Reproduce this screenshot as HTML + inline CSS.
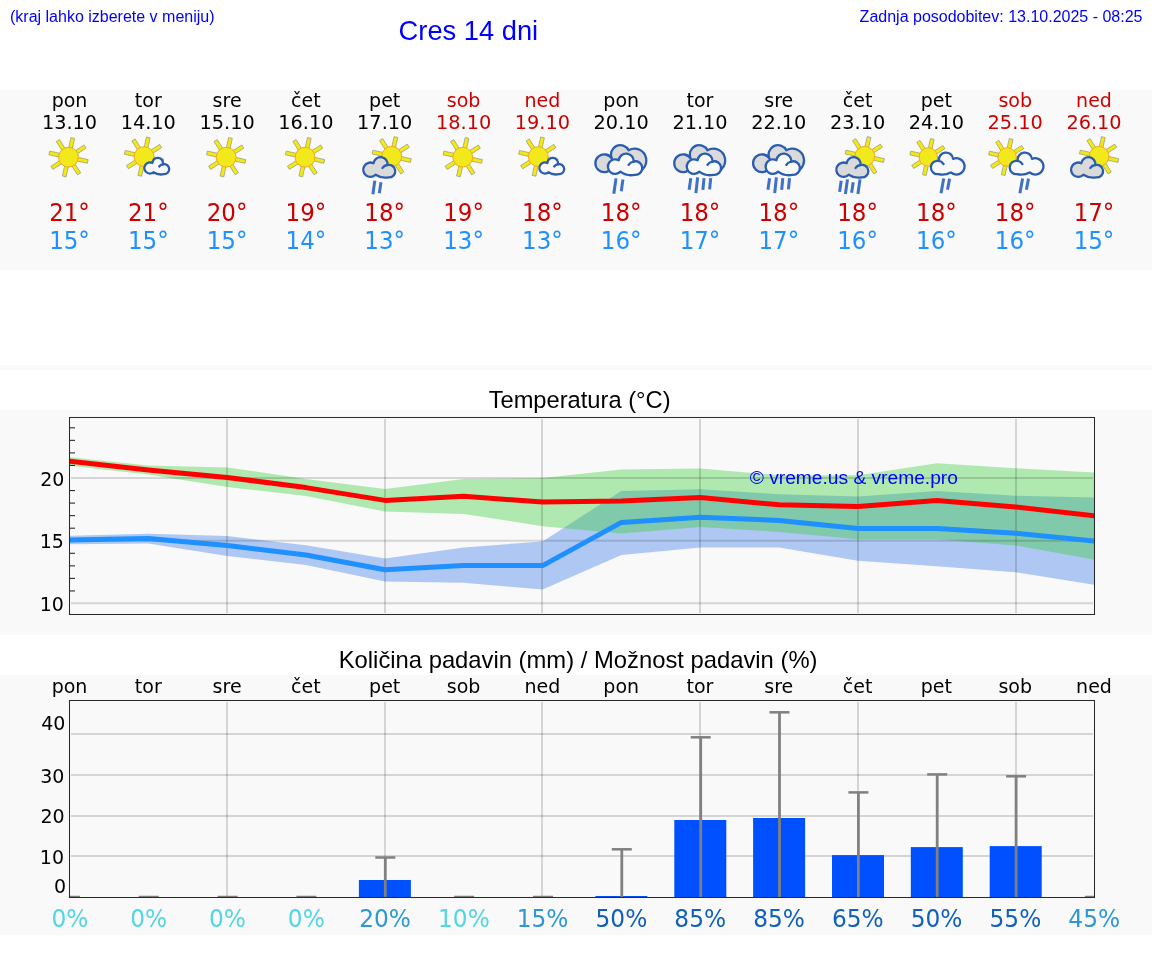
<!DOCTYPE html><html><head><meta charset="utf-8"><title>Cres 14 dni</title><style>
html,body{margin:0;padding:0;background:#fff;}body{width:1152px;height:975px;overflow:hidden;position:relative;}
svg{position:absolute;left:0;top:0;display:block;will-change:transform}
.dj{font-family:"DejaVu Sans",sans-serif}.lb{font-family:"Liberation Sans",Arial,sans-serif}
</style></head><body>
<svg width="1152" height="975" viewBox="0 0 1152 975">
<rect x="0" y="90" width="1152" height="180" fill="#f9f9f9"/>
<rect x="0" y="365" width="1152" height="5" fill="#f9f9f9"/>
<rect x="0" y="410" width="1152" height="225" fill="#f9f9f9"/>
<rect x="0" y="675" width="1152" height="260" fill="#f9f9f9"/>
<text class="lb" x="10" y="22" font-size="16" fill="#0000ff">(kraj lahko izberete v meniju)</text>
<text class="lb" x="468.4" y="40" font-size="27.3" fill="#0000ff" text-anchor="middle">Cres 14 dni</text>
<text class="lb" x="1142.5" y="21.5" font-size="16" fill="#0000ff" text-anchor="end">Zadnja posodobitev: 13.10.2025 - 08:25</text>
<text class="dj" x="69.5" y="106.5" font-size="19" fill="#000" text-anchor="middle">pon</text>
<text class="dj" x="69.5" y="128.8" font-size="19.3" fill="#000" text-anchor="middle">13.10</text>
<text class="dj" transform="translate(69.5,220.8) scale(0.945,1)" font-size="24.3" fill="#cc0000" text-anchor="middle">21°</text>
<text class="dj" transform="translate(69.5,248.8) scale(0.945,1)" font-size="24.3" fill="#1e90ff" text-anchor="middle">15°</text>
<text class="dj" x="148.3" y="106.5" font-size="19" fill="#000" text-anchor="middle">tor</text>
<text class="dj" x="148.3" y="128.8" font-size="19.3" fill="#000" text-anchor="middle">14.10</text>
<text class="dj" transform="translate(148.3,220.8) scale(0.945,1)" font-size="24.3" fill="#cc0000" text-anchor="middle">21°</text>
<text class="dj" transform="translate(148.3,248.8) scale(0.945,1)" font-size="24.3" fill="#1e90ff" text-anchor="middle">15°</text>
<text class="dj" x="227.1" y="106.5" font-size="19" fill="#000" text-anchor="middle">sre</text>
<text class="dj" x="227.1" y="128.8" font-size="19.3" fill="#000" text-anchor="middle">15.10</text>
<text class="dj" transform="translate(227.1,220.8) scale(0.945,1)" font-size="24.3" fill="#cc0000" text-anchor="middle">20°</text>
<text class="dj" transform="translate(227.1,248.8) scale(0.945,1)" font-size="24.3" fill="#1e90ff" text-anchor="middle">15°</text>
<text class="dj" x="305.9" y="106.5" font-size="19" fill="#000" text-anchor="middle">čet</text>
<text class="dj" x="305.9" y="128.8" font-size="19.3" fill="#000" text-anchor="middle">16.10</text>
<text class="dj" transform="translate(305.9,220.8) scale(0.945,1)" font-size="24.3" fill="#cc0000" text-anchor="middle">19°</text>
<text class="dj" transform="translate(305.9,248.8) scale(0.945,1)" font-size="24.3" fill="#1e90ff" text-anchor="middle">14°</text>
<text class="dj" x="384.7" y="106.5" font-size="19" fill="#000" text-anchor="middle">pet</text>
<text class="dj" x="384.7" y="128.8" font-size="19.3" fill="#000" text-anchor="middle">17.10</text>
<text class="dj" transform="translate(384.7,220.8) scale(0.945,1)" font-size="24.3" fill="#cc0000" text-anchor="middle">18°</text>
<text class="dj" transform="translate(384.7,248.8) scale(0.945,1)" font-size="24.3" fill="#1e90ff" text-anchor="middle">13°</text>
<text class="dj" x="463.6" y="106.5" font-size="19" fill="#cc0000" text-anchor="middle">sob</text>
<text class="dj" x="463.6" y="128.8" font-size="19.3" fill="#cc0000" text-anchor="middle">18.10</text>
<text class="dj" transform="translate(463.6,220.8) scale(0.945,1)" font-size="24.3" fill="#cc0000" text-anchor="middle">19°</text>
<text class="dj" transform="translate(463.6,248.8) scale(0.945,1)" font-size="24.3" fill="#1e90ff" text-anchor="middle">13°</text>
<text class="dj" x="542.4" y="106.5" font-size="19" fill="#cc0000" text-anchor="middle">ned</text>
<text class="dj" x="542.4" y="128.8" font-size="19.3" fill="#cc0000" text-anchor="middle">19.10</text>
<text class="dj" transform="translate(542.4,220.8) scale(0.945,1)" font-size="24.3" fill="#cc0000" text-anchor="middle">18°</text>
<text class="dj" transform="translate(542.4,248.8) scale(0.945,1)" font-size="24.3" fill="#1e90ff" text-anchor="middle">13°</text>
<text class="dj" x="621.2" y="106.5" font-size="19" fill="#000" text-anchor="middle">pon</text>
<text class="dj" x="621.2" y="128.8" font-size="19.3" fill="#000" text-anchor="middle">20.10</text>
<text class="dj" transform="translate(621.2,220.8) scale(0.945,1)" font-size="24.3" fill="#cc0000" text-anchor="middle">18°</text>
<text class="dj" transform="translate(621.2,248.8) scale(0.945,1)" font-size="24.3" fill="#1e90ff" text-anchor="middle">16°</text>
<text class="dj" x="700.0" y="106.5" font-size="19" fill="#000" text-anchor="middle">tor</text>
<text class="dj" x="700.0" y="128.8" font-size="19.3" fill="#000" text-anchor="middle">21.10</text>
<text class="dj" transform="translate(700.0,220.8) scale(0.945,1)" font-size="24.3" fill="#cc0000" text-anchor="middle">18°</text>
<text class="dj" transform="translate(700.0,248.8) scale(0.945,1)" font-size="24.3" fill="#1e90ff" text-anchor="middle">17°</text>
<text class="dj" x="778.8" y="106.5" font-size="19" fill="#000" text-anchor="middle">sre</text>
<text class="dj" x="778.8" y="128.8" font-size="19.3" fill="#000" text-anchor="middle">22.10</text>
<text class="dj" transform="translate(778.8,220.8) scale(0.945,1)" font-size="24.3" fill="#cc0000" text-anchor="middle">18°</text>
<text class="dj" transform="translate(778.8,248.8) scale(0.945,1)" font-size="24.3" fill="#1e90ff" text-anchor="middle">17°</text>
<text class="dj" x="857.6" y="106.5" font-size="19" fill="#000" text-anchor="middle">čet</text>
<text class="dj" x="857.6" y="128.8" font-size="19.3" fill="#000" text-anchor="middle">23.10</text>
<text class="dj" transform="translate(857.6,220.8) scale(0.945,1)" font-size="24.3" fill="#cc0000" text-anchor="middle">18°</text>
<text class="dj" transform="translate(857.6,248.8) scale(0.945,1)" font-size="24.3" fill="#1e90ff" text-anchor="middle">16°</text>
<text class="dj" x="936.4" y="106.5" font-size="19" fill="#000" text-anchor="middle">pet</text>
<text class="dj" x="936.4" y="128.8" font-size="19.3" fill="#000" text-anchor="middle">24.10</text>
<text class="dj" transform="translate(936.4,220.8) scale(0.945,1)" font-size="24.3" fill="#cc0000" text-anchor="middle">18°</text>
<text class="dj" transform="translate(936.4,248.8) scale(0.945,1)" font-size="24.3" fill="#1e90ff" text-anchor="middle">16°</text>
<text class="dj" x="1015.2" y="106.5" font-size="19" fill="#cc0000" text-anchor="middle">sob</text>
<text class="dj" x="1015.2" y="128.8" font-size="19.3" fill="#cc0000" text-anchor="middle">25.10</text>
<text class="dj" transform="translate(1015.2,220.8) scale(0.945,1)" font-size="24.3" fill="#cc0000" text-anchor="middle">18°</text>
<text class="dj" transform="translate(1015.2,248.8) scale(0.945,1)" font-size="24.3" fill="#1e90ff" text-anchor="middle">16°</text>
<text class="dj" x="1094.0" y="106.5" font-size="19" fill="#cc0000" text-anchor="middle">ned</text>
<text class="dj" x="1094.0" y="128.8" font-size="19.3" fill="#cc0000" text-anchor="middle">26.10</text>
<text class="dj" transform="translate(1094.0,220.8) scale(0.945,1)" font-size="24.3" fill="#cc0000" text-anchor="middle">17°</text>
<text class="dj" transform="translate(1094.0,248.8) scale(0.945,1)" font-size="24.3" fill="#1e90ff" text-anchor="middle">15°</text>
<g transform="translate(68.50,157.20)"><rect x="-1.9" y="-19.7" width="3.8" height="10.799999999999999" fill="#f2ea12" stroke="#8c8c7c" stroke-width="0.6" transform="rotate(12.5)"/><rect x="-1.9" y="-19.7" width="3.8" height="10.799999999999999" fill="#f2ea12" stroke="#8c8c7c" stroke-width="0.6" transform="rotate(57.5)"/><rect x="-1.9" y="-19.7" width="3.8" height="10.799999999999999" fill="#f2ea12" stroke="#8c8c7c" stroke-width="0.6" transform="rotate(102.5)"/><rect x="-1.9" y="-19.7" width="3.8" height="10.799999999999999" fill="#f2ea12" stroke="#8c8c7c" stroke-width="0.6" transform="rotate(147.5)"/><rect x="-1.9" y="-19.7" width="3.8" height="10.799999999999999" fill="#f2ea12" stroke="#8c8c7c" stroke-width="0.6" transform="rotate(192.5)"/><rect x="-1.9" y="-19.7" width="3.8" height="10.799999999999999" fill="#f2ea12" stroke="#8c8c7c" stroke-width="0.6" transform="rotate(237.5)"/><rect x="-1.9" y="-19.7" width="3.8" height="10.799999999999999" fill="#f2ea12" stroke="#8c8c7c" stroke-width="0.6" transform="rotate(282.5)"/><rect x="-1.9" y="-19.7" width="3.8" height="10.799999999999999" fill="#f2ea12" stroke="#8c8c7c" stroke-width="0.6" transform="rotate(327.5)"/><circle r="9.9" fill="#f1e91c" stroke="#f7a81b" stroke-width="1"/></g>
<g transform="translate(144.05,156.60)"><rect x="-1.9" y="-19.7" width="3.8" height="10.799999999999999" fill="#f2ea12" stroke="#8c8c7c" stroke-width="0.6" transform="rotate(12.5)"/><rect x="-1.9" y="-19.7" width="3.8" height="10.799999999999999" fill="#f2ea12" stroke="#8c8c7c" stroke-width="0.6" transform="rotate(57.5)"/><rect x="-1.9" y="-19.7" width="3.8" height="10.799999999999999" fill="#f2ea12" stroke="#8c8c7c" stroke-width="0.6" transform="rotate(102.5)"/><rect x="-1.9" y="-19.7" width="3.8" height="10.799999999999999" fill="#f2ea12" stroke="#8c8c7c" stroke-width="0.6" transform="rotate(147.5)"/><rect x="-1.9" y="-19.7" width="3.8" height="10.799999999999999" fill="#f2ea12" stroke="#8c8c7c" stroke-width="0.6" transform="rotate(192.5)"/><rect x="-1.9" y="-19.7" width="3.8" height="10.799999999999999" fill="#f2ea12" stroke="#8c8c7c" stroke-width="0.6" transform="rotate(237.5)"/><rect x="-1.9" y="-19.7" width="3.8" height="10.799999999999999" fill="#f2ea12" stroke="#8c8c7c" stroke-width="0.6" transform="rotate(282.5)"/><rect x="-1.9" y="-19.7" width="3.8" height="10.799999999999999" fill="#f2ea12" stroke="#8c8c7c" stroke-width="0.6" transform="rotate(327.5)"/><circle r="9.9" fill="#f1e91c" stroke="#f7a81b" stroke-width="1"/></g><g transform="translate(149.90,168.00)"><path d="M3.46 4.27 A5.50 5.50 0 1 1 2.50 -4.90 A5.30 5.30 0 1 1 12.94 -3.61 A5.00 5.00 0 1 1 13.86 6.18 A14 14 0 0 1 3.46 4.27Z" fill="#f9f9f9" stroke="#2a5db0" stroke-width="2.3" stroke-linejoin="round"/><path d="M9.31 -1.56 A5.35 5.35 0 0 1 12.94 -3.61" fill="none" stroke="#2a5db0" stroke-width="2.3" stroke-linecap="round"/></g>
<g transform="translate(226.19,157.20)"><rect x="-1.9" y="-19.7" width="3.8" height="10.799999999999999" fill="#f2ea12" stroke="#8c8c7c" stroke-width="0.6" transform="rotate(12.5)"/><rect x="-1.9" y="-19.7" width="3.8" height="10.799999999999999" fill="#f2ea12" stroke="#8c8c7c" stroke-width="0.6" transform="rotate(57.5)"/><rect x="-1.9" y="-19.7" width="3.8" height="10.799999999999999" fill="#f2ea12" stroke="#8c8c7c" stroke-width="0.6" transform="rotate(102.5)"/><rect x="-1.9" y="-19.7" width="3.8" height="10.799999999999999" fill="#f2ea12" stroke="#8c8c7c" stroke-width="0.6" transform="rotate(147.5)"/><rect x="-1.9" y="-19.7" width="3.8" height="10.799999999999999" fill="#f2ea12" stroke="#8c8c7c" stroke-width="0.6" transform="rotate(192.5)"/><rect x="-1.9" y="-19.7" width="3.8" height="10.799999999999999" fill="#f2ea12" stroke="#8c8c7c" stroke-width="0.6" transform="rotate(237.5)"/><rect x="-1.9" y="-19.7" width="3.8" height="10.799999999999999" fill="#f2ea12" stroke="#8c8c7c" stroke-width="0.6" transform="rotate(282.5)"/><rect x="-1.9" y="-19.7" width="3.8" height="10.799999999999999" fill="#f2ea12" stroke="#8c8c7c" stroke-width="0.6" transform="rotate(327.5)"/><circle r="9.9" fill="#f1e91c" stroke="#f7a81b" stroke-width="1"/></g>
<g transform="translate(305.04,157.20)"><rect x="-1.9" y="-19.7" width="3.8" height="10.799999999999999" fill="#f2ea12" stroke="#8c8c7c" stroke-width="0.6" transform="rotate(12.5)"/><rect x="-1.9" y="-19.7" width="3.8" height="10.799999999999999" fill="#f2ea12" stroke="#8c8c7c" stroke-width="0.6" transform="rotate(57.5)"/><rect x="-1.9" y="-19.7" width="3.8" height="10.799999999999999" fill="#f2ea12" stroke="#8c8c7c" stroke-width="0.6" transform="rotate(102.5)"/><rect x="-1.9" y="-19.7" width="3.8" height="10.799999999999999" fill="#f2ea12" stroke="#8c8c7c" stroke-width="0.6" transform="rotate(147.5)"/><rect x="-1.9" y="-19.7" width="3.8" height="10.799999999999999" fill="#f2ea12" stroke="#8c8c7c" stroke-width="0.6" transform="rotate(192.5)"/><rect x="-1.9" y="-19.7" width="3.8" height="10.799999999999999" fill="#f2ea12" stroke="#8c8c7c" stroke-width="0.6" transform="rotate(237.5)"/><rect x="-1.9" y="-19.7" width="3.8" height="10.799999999999999" fill="#f2ea12" stroke="#8c8c7c" stroke-width="0.6" transform="rotate(282.5)"/><rect x="-1.9" y="-19.7" width="3.8" height="10.799999999999999" fill="#f2ea12" stroke="#8c8c7c" stroke-width="0.6" transform="rotate(327.5)"/><circle r="9.9" fill="#f1e91c" stroke="#f7a81b" stroke-width="1"/></g>
<g transform="translate(391.68,156.30)"><rect x="-1.9" y="-19.7" width="3.8" height="10.799999999999999" fill="#f2ea12" stroke="#8c8c7c" stroke-width="0.6" transform="rotate(12.5)"/><rect x="-1.9" y="-19.7" width="3.8" height="10.799999999999999" fill="#f2ea12" stroke="#8c8c7c" stroke-width="0.6" transform="rotate(57.5)"/><rect x="-1.9" y="-19.7" width="3.8" height="10.799999999999999" fill="#f2ea12" stroke="#8c8c7c" stroke-width="0.6" transform="rotate(102.5)"/><rect x="-1.9" y="-19.7" width="3.8" height="10.799999999999999" fill="#f2ea12" stroke="#8c8c7c" stroke-width="0.6" transform="rotate(147.5)"/><rect x="-1.9" y="-19.7" width="3.8" height="10.799999999999999" fill="#f2ea12" stroke="#8c8c7c" stroke-width="0.6" transform="rotate(192.5)"/><rect x="-1.9" y="-19.7" width="3.8" height="10.799999999999999" fill="#f2ea12" stroke="#8c8c7c" stroke-width="0.6" transform="rotate(237.5)"/><rect x="-1.9" y="-19.7" width="3.8" height="10.799999999999999" fill="#f2ea12" stroke="#8c8c7c" stroke-width="0.6" transform="rotate(282.5)"/><rect x="-1.9" y="-19.7" width="3.8" height="10.799999999999999" fill="#f2ea12" stroke="#8c8c7c" stroke-width="0.6" transform="rotate(327.5)"/><circle r="9.9" fill="#f1e91c" stroke="#f7a81b" stroke-width="1"/></g><g transform="translate(370.48,169.70)"><path d="M5.09 5.09 A7.20 7.20 0 1 1 3.07 -6.51 A7.00 7.00 0 0 1 16.96 -4.71 A6.30 6.30 0 1 1 17.95 7.68 A18 18 0 0 1 5.09 5.09Z" fill="#dadada" stroke="#2a5db0" stroke-width="2.3" stroke-linejoin="round"/><path d="M12.03 -1.76 A6.75 6.75 0 0 1 16.96 -4.71" fill="none" stroke="#2a5db0" stroke-width="2.3" stroke-linecap="round"/></g><line x1="374.8" y1="180.6" x2="372.9" y2="194.3" stroke="#3f71c4" stroke-width="3"/><line x1="381.0" y1="182.3" x2="379.3" y2="193.3" stroke="#3f71c4" stroke-width="3"/>
<g transform="translate(462.73,157.20)"><rect x="-1.9" y="-19.7" width="3.8" height="10.799999999999999" fill="#f2ea12" stroke="#8c8c7c" stroke-width="0.6" transform="rotate(12.5)"/><rect x="-1.9" y="-19.7" width="3.8" height="10.799999999999999" fill="#f2ea12" stroke="#8c8c7c" stroke-width="0.6" transform="rotate(57.5)"/><rect x="-1.9" y="-19.7" width="3.8" height="10.799999999999999" fill="#f2ea12" stroke="#8c8c7c" stroke-width="0.6" transform="rotate(102.5)"/><rect x="-1.9" y="-19.7" width="3.8" height="10.799999999999999" fill="#f2ea12" stroke="#8c8c7c" stroke-width="0.6" transform="rotate(147.5)"/><rect x="-1.9" y="-19.7" width="3.8" height="10.799999999999999" fill="#f2ea12" stroke="#8c8c7c" stroke-width="0.6" transform="rotate(192.5)"/><rect x="-1.9" y="-19.7" width="3.8" height="10.799999999999999" fill="#f2ea12" stroke="#8c8c7c" stroke-width="0.6" transform="rotate(237.5)"/><rect x="-1.9" y="-19.7" width="3.8" height="10.799999999999999" fill="#f2ea12" stroke="#8c8c7c" stroke-width="0.6" transform="rotate(282.5)"/><rect x="-1.9" y="-19.7" width="3.8" height="10.799999999999999" fill="#f2ea12" stroke="#8c8c7c" stroke-width="0.6" transform="rotate(327.5)"/><circle r="9.9" fill="#f1e91c" stroke="#f7a81b" stroke-width="1"/></g>
<g transform="translate(538.28,156.60)"><rect x="-1.9" y="-19.7" width="3.8" height="10.799999999999999" fill="#f2ea12" stroke="#8c8c7c" stroke-width="0.6" transform="rotate(12.5)"/><rect x="-1.9" y="-19.7" width="3.8" height="10.799999999999999" fill="#f2ea12" stroke="#8c8c7c" stroke-width="0.6" transform="rotate(57.5)"/><rect x="-1.9" y="-19.7" width="3.8" height="10.799999999999999" fill="#f2ea12" stroke="#8c8c7c" stroke-width="0.6" transform="rotate(102.5)"/><rect x="-1.9" y="-19.7" width="3.8" height="10.799999999999999" fill="#f2ea12" stroke="#8c8c7c" stroke-width="0.6" transform="rotate(147.5)"/><rect x="-1.9" y="-19.7" width="3.8" height="10.799999999999999" fill="#f2ea12" stroke="#8c8c7c" stroke-width="0.6" transform="rotate(192.5)"/><rect x="-1.9" y="-19.7" width="3.8" height="10.799999999999999" fill="#f2ea12" stroke="#8c8c7c" stroke-width="0.6" transform="rotate(237.5)"/><rect x="-1.9" y="-19.7" width="3.8" height="10.799999999999999" fill="#f2ea12" stroke="#8c8c7c" stroke-width="0.6" transform="rotate(282.5)"/><rect x="-1.9" y="-19.7" width="3.8" height="10.799999999999999" fill="#f2ea12" stroke="#8c8c7c" stroke-width="0.6" transform="rotate(327.5)"/><circle r="9.9" fill="#f1e91c" stroke="#f7a81b" stroke-width="1"/></g><g transform="translate(544.88,168.00)"><path d="M3.46 4.27 A5.50 5.50 0 1 1 2.50 -4.90 A5.30 5.30 0 1 1 12.94 -3.61 A5.00 5.00 0 1 1 13.86 6.18 A14 14 0 0 1 3.46 4.27Z" fill="#f9f9f9" stroke="#2a5db0" stroke-width="2.3" stroke-linejoin="round"/><path d="M9.31 -1.56 A5.35 5.35 0 0 1 12.94 -3.61" fill="none" stroke="#2a5db0" stroke-width="2.3" stroke-linecap="round"/></g>
<g transform="translate(604.02,163.70)"><path d="M7.71 4.45 A8.90 8.90 0 1 1 7.88 -5.02 A9.20 9.20 0 1 1 24.62 -13.43 A11.80 11.80 0 1 1 28.45 8.42 A400 400 0 0 1 7.71 4.45Z" fill="#dadada" stroke="#2a5db0" stroke-width="2.3" stroke-linejoin="round"/></g><g transform="translate(615.22,166.60)"><path d="M5.25 5.07 A7.30 7.30 0 1 1 3.54 -6.38 A7.50 7.50 0 0 1 18.48 -5.08 A6.80 6.80 0 1 1 19.61 8.27 A18 18 0 0 1 5.25 5.07Z" fill="#f9f9f9" stroke="#2a5db0" stroke-width="2.3" stroke-linejoin="round"/><path d="M13.37 -1.83 A7.20 7.20 0 0 1 18.48 -5.08" fill="none" stroke="#2a5db0" stroke-width="2.3" stroke-linecap="round"/></g><line x1="616.0" y1="178.4" x2="613.8" y2="193.7" stroke="#3f71c4" stroke-width="3"/><line x1="622.9" y1="179.5" x2="621.3" y2="191.2" stroke="#3f71c4" stroke-width="3"/>
<g transform="translate(682.87,163.70)"><path d="M7.71 4.45 A8.90 8.90 0 1 1 7.88 -5.02 A9.20 9.20 0 1 1 24.62 -13.43 A11.80 11.80 0 1 1 28.45 8.42 A400 400 0 0 1 7.71 4.45Z" fill="#dadada" stroke="#2a5db0" stroke-width="2.3" stroke-linejoin="round"/></g><g transform="translate(694.07,166.60)"><path d="M5.25 5.07 A7.30 7.30 0 1 1 3.54 -6.38 A7.50 7.50 0 0 1 18.48 -5.08 A6.80 6.80 0 1 1 19.61 8.27 A18 18 0 0 1 5.25 5.07Z" fill="#f9f9f9" stroke="#2a5db0" stroke-width="2.3" stroke-linejoin="round"/><path d="M13.37 -1.83 A7.20 7.20 0 0 1 18.48 -5.08" fill="none" stroke="#2a5db0" stroke-width="2.3" stroke-linecap="round"/></g><line x1="690.8" y1="178.2" x2="689.1" y2="189.8" stroke="#3f71c4" stroke-width="3"/><line x1="697.6" y1="177.3" x2="695.9" y2="193.2" stroke="#3f71c4" stroke-width="3"/><line x1="704.0" y1="178.2" x2="702.9" y2="189.8" stroke="#3f71c4" stroke-width="3"/><line x1="710.7" y1="178.2" x2="709.6" y2="189.3" stroke="#3f71c4" stroke-width="3"/>
<g transform="translate(761.71,163.70)"><path d="M7.71 4.45 A8.90 8.90 0 1 1 7.88 -5.02 A9.20 9.20 0 1 1 24.62 -13.43 A11.80 11.80 0 1 1 28.45 8.42 A400 400 0 0 1 7.71 4.45Z" fill="#dadada" stroke="#2a5db0" stroke-width="2.3" stroke-linejoin="round"/></g><g transform="translate(772.91,166.60)"><path d="M5.25 5.07 A7.30 7.30 0 1 1 3.54 -6.38 A7.50 7.50 0 0 1 18.48 -5.08 A6.80 6.80 0 1 1 19.61 8.27 A18 18 0 0 1 5.25 5.07Z" fill="#f9f9f9" stroke="#2a5db0" stroke-width="2.3" stroke-linejoin="round"/><path d="M13.37 -1.83 A7.20 7.20 0 0 1 18.48 -5.08" fill="none" stroke="#2a5db0" stroke-width="2.3" stroke-linecap="round"/></g><line x1="769.6" y1="178.2" x2="767.9" y2="189.8" stroke="#3f71c4" stroke-width="3"/><line x1="776.4" y1="177.3" x2="774.7" y2="193.2" stroke="#3f71c4" stroke-width="3"/><line x1="782.8" y1="178.2" x2="781.7" y2="189.8" stroke="#3f71c4" stroke-width="3"/><line x1="789.5" y1="178.2" x2="788.4" y2="189.3" stroke="#3f71c4" stroke-width="3"/>
<g transform="translate(864.76,156.30)"><rect x="-1.9" y="-19.7" width="3.8" height="10.799999999999999" fill="#f2ea12" stroke="#8c8c7c" stroke-width="0.6" transform="rotate(12.5)"/><rect x="-1.9" y="-19.7" width="3.8" height="10.799999999999999" fill="#f2ea12" stroke="#8c8c7c" stroke-width="0.6" transform="rotate(57.5)"/><rect x="-1.9" y="-19.7" width="3.8" height="10.799999999999999" fill="#f2ea12" stroke="#8c8c7c" stroke-width="0.6" transform="rotate(102.5)"/><rect x="-1.9" y="-19.7" width="3.8" height="10.799999999999999" fill="#f2ea12" stroke="#8c8c7c" stroke-width="0.6" transform="rotate(147.5)"/><rect x="-1.9" y="-19.7" width="3.8" height="10.799999999999999" fill="#f2ea12" stroke="#8c8c7c" stroke-width="0.6" transform="rotate(192.5)"/><rect x="-1.9" y="-19.7" width="3.8" height="10.799999999999999" fill="#f2ea12" stroke="#8c8c7c" stroke-width="0.6" transform="rotate(237.5)"/><rect x="-1.9" y="-19.7" width="3.8" height="10.799999999999999" fill="#f2ea12" stroke="#8c8c7c" stroke-width="0.6" transform="rotate(282.5)"/><rect x="-1.9" y="-19.7" width="3.8" height="10.799999999999999" fill="#f2ea12" stroke="#8c8c7c" stroke-width="0.6" transform="rotate(327.5)"/><circle r="9.9" fill="#f1e91c" stroke="#f7a81b" stroke-width="1"/></g><g transform="translate(843.56,169.70)"><path d="M5.09 5.09 A7.20 7.20 0 1 1 3.07 -6.51 A7.00 7.00 0 0 1 16.96 -4.71 A6.30 6.30 0 1 1 17.95 7.68 A18 18 0 0 1 5.09 5.09Z" fill="#dadada" stroke="#2a5db0" stroke-width="2.3" stroke-linejoin="round"/><path d="M12.03 -1.76 A6.75 6.75 0 0 1 16.96 -4.71" fill="none" stroke="#2a5db0" stroke-width="2.3" stroke-linecap="round"/></g><line x1="841.2" y1="180.7" x2="839.6" y2="191.9" stroke="#3f71c4" stroke-width="3"/><line x1="847.5" y1="179.4" x2="845.4" y2="194.0" stroke="#3f71c4" stroke-width="3"/><line x1="853.2" y1="182.3" x2="851.6" y2="192.7" stroke="#3f71c4" stroke-width="3"/><line x1="860.0" y1="179.4" x2="857.9" y2="194.0" stroke="#3f71c4" stroke-width="3"/>
<g transform="translate(928.31,157.00)"><rect x="-1.9" y="-18.5" width="3.8" height="10.3" fill="#f2ea12" stroke="#8c8c7c" stroke-width="0.6" transform="rotate(12.5)"/><rect x="-1.9" y="-18.5" width="3.8" height="10.3" fill="#f2ea12" stroke="#8c8c7c" stroke-width="0.6" transform="rotate(57.5)"/><rect x="-1.9" y="-18.5" width="3.8" height="10.3" fill="#f2ea12" stroke="#8c8c7c" stroke-width="0.6" transform="rotate(102.5)"/><rect x="-1.9" y="-18.5" width="3.8" height="10.3" fill="#f2ea12" stroke="#8c8c7c" stroke-width="0.6" transform="rotate(147.5)"/><rect x="-1.9" y="-18.5" width="3.8" height="10.3" fill="#f2ea12" stroke="#8c8c7c" stroke-width="0.6" transform="rotate(192.5)"/><rect x="-1.9" y="-18.5" width="3.8" height="10.3" fill="#f2ea12" stroke="#8c8c7c" stroke-width="0.6" transform="rotate(237.5)"/><rect x="-1.9" y="-18.5" width="3.8" height="10.3" fill="#f2ea12" stroke="#8c8c7c" stroke-width="0.6" transform="rotate(282.5)"/><rect x="-1.9" y="-18.5" width="3.8" height="10.3" fill="#f2ea12" stroke="#8c8c7c" stroke-width="0.6" transform="rotate(327.5)"/><circle r="9.2" fill="#f1e91c" stroke="#f7a81b" stroke-width="1"/></g><g transform="translate(956.41,166.40) scale(-1,1)"><path d="M5.59 6.00 A8.20 8.20 0 1 1 3.26 -7.52 A7.20 7.20 0 1 1 17.51 -5.47 A6.70 6.70 0 1 1 18.22 7.77 A18 18 0 0 1 5.59 6.00Z" fill="#f9f9f9" stroke="#2a5db0" stroke-width="2.3" stroke-linejoin="round"/><path d="M12.82 -2.35 A6.80 6.80 0 0 1 17.51 -5.47" fill="none" stroke="#2a5db0" stroke-width="2.3" stroke-linecap="round"/></g><line x1="943.7" y1="178.4" x2="941.0" y2="193.3" stroke="#3f71c4" stroke-width="3"/><line x1="949.6" y1="178.6" x2="947.5" y2="189.7" stroke="#3f71c4" stroke-width="3"/>
<g transform="translate(1007.15,157.00)"><rect x="-1.9" y="-18.5" width="3.8" height="10.3" fill="#f2ea12" stroke="#8c8c7c" stroke-width="0.6" transform="rotate(12.5)"/><rect x="-1.9" y="-18.5" width="3.8" height="10.3" fill="#f2ea12" stroke="#8c8c7c" stroke-width="0.6" transform="rotate(57.5)"/><rect x="-1.9" y="-18.5" width="3.8" height="10.3" fill="#f2ea12" stroke="#8c8c7c" stroke-width="0.6" transform="rotate(102.5)"/><rect x="-1.9" y="-18.5" width="3.8" height="10.3" fill="#f2ea12" stroke="#8c8c7c" stroke-width="0.6" transform="rotate(147.5)"/><rect x="-1.9" y="-18.5" width="3.8" height="10.3" fill="#f2ea12" stroke="#8c8c7c" stroke-width="0.6" transform="rotate(192.5)"/><rect x="-1.9" y="-18.5" width="3.8" height="10.3" fill="#f2ea12" stroke="#8c8c7c" stroke-width="0.6" transform="rotate(237.5)"/><rect x="-1.9" y="-18.5" width="3.8" height="10.3" fill="#f2ea12" stroke="#8c8c7c" stroke-width="0.6" transform="rotate(282.5)"/><rect x="-1.9" y="-18.5" width="3.8" height="10.3" fill="#f2ea12" stroke="#8c8c7c" stroke-width="0.6" transform="rotate(327.5)"/><circle r="9.2" fill="#f1e91c" stroke="#f7a81b" stroke-width="1"/></g><g transform="translate(1035.25,166.40) scale(-1,1)"><path d="M5.59 6.00 A8.20 8.20 0 1 1 3.26 -7.52 A7.20 7.20 0 1 1 17.51 -5.47 A6.70 6.70 0 1 1 18.22 7.77 A18 18 0 0 1 5.59 6.00Z" fill="#f9f9f9" stroke="#2a5db0" stroke-width="2.3" stroke-linejoin="round"/><path d="M12.82 -2.35 A6.80 6.80 0 0 1 17.51 -5.47" fill="none" stroke="#2a5db0" stroke-width="2.3" stroke-linecap="round"/></g><line x1="1022.6" y1="178.4" x2="1019.9" y2="193.3" stroke="#3f71c4" stroke-width="3"/><line x1="1028.5" y1="178.6" x2="1026.4" y2="189.7" stroke="#3f71c4" stroke-width="3"/>
<g transform="translate(1099.10,156.30)"><rect x="-1.9" y="-19.7" width="3.8" height="10.799999999999999" fill="#f2ea12" stroke="#8c8c7c" stroke-width="0.6" transform="rotate(12.5)"/><rect x="-1.9" y="-19.7" width="3.8" height="10.799999999999999" fill="#f2ea12" stroke="#8c8c7c" stroke-width="0.6" transform="rotate(57.5)"/><rect x="-1.9" y="-19.7" width="3.8" height="10.799999999999999" fill="#f2ea12" stroke="#8c8c7c" stroke-width="0.6" transform="rotate(102.5)"/><rect x="-1.9" y="-19.7" width="3.8" height="10.799999999999999" fill="#f2ea12" stroke="#8c8c7c" stroke-width="0.6" transform="rotate(147.5)"/><rect x="-1.9" y="-19.7" width="3.8" height="10.799999999999999" fill="#f2ea12" stroke="#8c8c7c" stroke-width="0.6" transform="rotate(192.5)"/><rect x="-1.9" y="-19.7" width="3.8" height="10.799999999999999" fill="#f2ea12" stroke="#8c8c7c" stroke-width="0.6" transform="rotate(237.5)"/><rect x="-1.9" y="-19.7" width="3.8" height="10.799999999999999" fill="#f2ea12" stroke="#8c8c7c" stroke-width="0.6" transform="rotate(282.5)"/><rect x="-1.9" y="-19.7" width="3.8" height="10.799999999999999" fill="#f2ea12" stroke="#8c8c7c" stroke-width="0.6" transform="rotate(327.5)"/><circle r="9.9" fill="#f1e91c" stroke="#f7a81b" stroke-width="1"/></g><g transform="translate(1078.30,169.70)"><path d="M5.09 5.09 A7.20 7.20 0 1 1 3.07 -6.51 A7.00 7.00 0 0 1 16.96 -4.71 A6.30 6.30 0 1 1 17.95 7.68 A18 18 0 0 1 5.09 5.09Z" fill="#dadada" stroke="#2a5db0" stroke-width="2.3" stroke-linejoin="round"/><path d="M12.03 -1.76 A6.75 6.75 0 0 1 16.96 -4.71" fill="none" stroke="#2a5db0" stroke-width="2.3" stroke-linecap="round"/></g>
<rect x="70" y="418" width="1024" height="196" fill="#fff"/>
<rect x="71" y="419" width="1022" height="194" fill="#f9f9f9"/>
<clipPath id="tc"><rect x="70" y="418" width="1024" height="196"/></clipPath>
<g clip-path="url(#tc)">
<polygon points="69.5,535.8 148.3,533.8 227.2,536.0 306.0,545.3 384.9,558.6 463.7,547.5 542.6,541.4 621.4,490.9 700.3,489.2 779.1,494.2 858.0,496.6 936.8,490.9 1015.7,495.8 1094.5,497.5 1094.5,584.8 1015.7,572.3 936.8,566.3 858.0,560.7 779.1,547.5 700.3,547.5 621.4,554.9 542.6,589.4 463.7,582.8 384.9,581.6 306.0,565.0 227.2,556.0 148.3,543.6 69.5,544.3" fill="#6495ed" fill-opacity="0.5"/>
<polygon points="69.5,457.2 148.3,465.5 227.2,467.4 306.0,478.9 384.9,488.9 463.7,479.1 542.6,478.1 621.4,469.5 700.3,468.4 779.1,475.3 858.0,475.3 936.8,463.3 1015.7,468.2 1094.5,472.5 1094.5,559.5 1015.7,545.5 936.8,539.2 858.0,539.3 779.1,531.9 700.3,527.0 621.4,533.6 542.6,526.2 463.7,513.9 384.9,511.5 306.0,496.0 227.2,487.0 148.3,474.5 69.5,465.8" fill="#32cd32" fill-opacity="0.37"/>
<line x1="71" x2="1093" y1="478" y2="478" stroke="#000" stroke-opacity="0.145" stroke-width="2"/>
<line x1="71" x2="1093" y1="540.8" y2="540.8" stroke="#000" stroke-opacity="0.145" stroke-width="2"/>
<line x1="71" x2="1093" y1="603.3" y2="603.3" stroke="#000" stroke-opacity="0.145" stroke-width="2"/>
<line x1="227" x2="227" y1="419" y2="613" stroke="#000" stroke-opacity="0.145" stroke-width="2"/>
<line x1="385" x2="385" y1="419" y2="613" stroke="#000" stroke-opacity="0.145" stroke-width="2"/>
<line x1="542" x2="542" y1="419" y2="613" stroke="#000" stroke-opacity="0.145" stroke-width="2"/>
<line x1="700" x2="700" y1="419" y2="613" stroke="#000" stroke-opacity="0.145" stroke-width="2"/>
<line x1="858" x2="858" y1="419" y2="613" stroke="#000" stroke-opacity="0.145" stroke-width="2"/>
<line x1="1016" x2="1016" y1="419" y2="613" stroke="#000" stroke-opacity="0.145" stroke-width="2"/>
<polyline points="69.5,539.9 148.3,538.6 227.2,545.6 306.0,555.0 384.9,569.7 463.7,565.6 542.6,565.6 621.4,522.4 700.3,517.2 779.1,520.4 858.0,528.6 936.8,528.6 1015.7,533.2 1094.5,541.0" fill="none" stroke="#1e90ff" stroke-width="5" stroke-linejoin="round"/>
<polyline points="69.5,461.3 148.3,470.0 227.2,477.4 306.0,487.6 384.9,500.4 463.7,496.3 542.6,502.0 621.4,501.1 700.3,497.5 779.1,504.8 858.0,506.5 936.8,500.4 1015.7,507.0 1094.5,515.9" fill="none" stroke="#ff0000" stroke-width="5" stroke-linejoin="round"/>
</g>
<line x1="70" x2="75" y1="590.95" y2="590.95" stroke="#2b2b2b" stroke-width="1.1"/>
<line x1="70" x2="75" y1="578.40" y2="578.40" stroke="#2b2b2b" stroke-width="1.1"/>
<line x1="70" x2="75" y1="565.85" y2="565.85" stroke="#2b2b2b" stroke-width="1.1"/>
<line x1="70" x2="75" y1="553.30" y2="553.30" stroke="#2b2b2b" stroke-width="1.1"/>
<line x1="70" x2="75" y1="528.20" y2="528.20" stroke="#2b2b2b" stroke-width="1.1"/>
<line x1="70" x2="75" y1="515.65" y2="515.65" stroke="#2b2b2b" stroke-width="1.1"/>
<line x1="70" x2="75" y1="503.10" y2="503.10" stroke="#2b2b2b" stroke-width="1.1"/>
<line x1="70" x2="75" y1="490.55" y2="490.55" stroke="#2b2b2b" stroke-width="1.1"/>
<line x1="70" x2="75" y1="465.45" y2="465.45" stroke="#2b2b2b" stroke-width="1.1"/>
<line x1="70" x2="75" y1="452.90" y2="452.90" stroke="#2b2b2b" stroke-width="1.1"/>
<line x1="70" x2="75" y1="440.35" y2="440.35" stroke="#2b2b2b" stroke-width="1.1"/>
<line x1="70" x2="75" y1="427.80" y2="427.80" stroke="#2b2b2b" stroke-width="1.1"/>
<rect x="68.5" y="416.5" width="1027" height="199" fill="none" stroke="#fff" stroke-width="1"/><rect x="69.5" y="417.5" width="1025" height="197" fill="none" stroke="#2b2b2b" stroke-width="1.1"/>
<text class="dj" x="64.45" y="485.6" font-size="19" fill="#000" text-anchor="end">20</text>
<text class="dj" x="63.95" y="548.4" font-size="19" fill="#000" text-anchor="end">15</text>
<text class="dj" x="63.95" y="611.1" font-size="19" fill="#000" text-anchor="end">10</text>
<text class="lb" x="853.8" y="484" font-size="19.2" fill="#0000ff" text-anchor="middle">© vreme.us &amp; vreme.pro</text>
<text class="lb" x="579.6" y="407.8" font-size="23.7" fill="#000" text-anchor="middle">Temperatura (°C)</text>
<text class="lb" x="578.1" y="667.7" font-size="23.8" fill="#000" text-anchor="middle">Količina padavin (mm) / Možnost padavin (%)</text>
<text class="dj" x="69.5" y="692.8" font-size="19" fill="#000" text-anchor="middle">pon</text>
<text class="dj" x="148.3" y="692.8" font-size="19" fill="#000" text-anchor="middle">tor</text>
<text class="dj" x="227.1" y="692.8" font-size="19" fill="#000" text-anchor="middle">sre</text>
<text class="dj" x="305.9" y="692.8" font-size="19" fill="#000" text-anchor="middle">čet</text>
<text class="dj" x="384.7" y="692.8" font-size="19" fill="#000" text-anchor="middle">pet</text>
<text class="dj" x="463.6" y="692.8" font-size="19" fill="#000" text-anchor="middle">sob</text>
<text class="dj" x="542.4" y="692.8" font-size="19" fill="#000" text-anchor="middle">ned</text>
<text class="dj" x="621.2" y="692.8" font-size="19" fill="#000" text-anchor="middle">pon</text>
<text class="dj" x="700.0" y="692.8" font-size="19" fill="#000" text-anchor="middle">tor</text>
<text class="dj" x="778.8" y="692.8" font-size="19" fill="#000" text-anchor="middle">sre</text>
<text class="dj" x="857.6" y="692.8" font-size="19" fill="#000" text-anchor="middle">čet</text>
<text class="dj" x="936.4" y="692.8" font-size="19" fill="#000" text-anchor="middle">pet</text>
<text class="dj" x="1015.2" y="692.8" font-size="19" fill="#000" text-anchor="middle">sob</text>
<text class="dj" x="1094.0" y="692.8" font-size="19" fill="#000" text-anchor="middle">ned</text>
<rect x="70" y="701" width="1024" height="196" fill="#fff"/>
<rect x="71" y="702" width="1022" height="194" fill="#f9f9f9"/>
<line x1="71" x2="1093" y1="734" y2="734" stroke="#000" stroke-opacity="0.145" stroke-width="2"/>
<line x1="71" x2="1093" y1="775" y2="775" stroke="#000" stroke-opacity="0.145" stroke-width="2"/>
<line x1="71" x2="1093" y1="816" y2="816" stroke="#000" stroke-opacity="0.145" stroke-width="2"/>
<line x1="71" x2="1093" y1="856" y2="856" stroke="#000" stroke-opacity="0.145" stroke-width="2"/>
<line x1="227" x2="227" y1="702" y2="896" stroke="#000" stroke-opacity="0.145" stroke-width="2"/>
<line x1="385" x2="385" y1="702" y2="896" stroke="#000" stroke-opacity="0.145" stroke-width="2"/>
<line x1="542" x2="542" y1="702" y2="896" stroke="#000" stroke-opacity="0.145" stroke-width="2"/>
<line x1="700" x2="700" y1="702" y2="896" stroke="#000" stroke-opacity="0.145" stroke-width="2"/>
<line x1="858" x2="858" y1="702" y2="896" stroke="#000" stroke-opacity="0.145" stroke-width="2"/>
<line x1="1016" x2="1016" y1="702" y2="896" stroke="#000" stroke-opacity="0.145" stroke-width="2"/>
<clipPath id="pc"><rect x="70" y="701" width="1024" height="198"/></clipPath>
<g clip-path="url(#pc)">
<rect x="358.9" y="880" width="52" height="17" fill="#0050ff"/>
<rect x="595.4" y="896" width="52" height="1" fill="#0050ff"/>
<rect x="674.3" y="820" width="52" height="77" fill="#0050ff"/>
<rect x="753.1" y="818" width="52" height="79" fill="#0050ff"/>
<rect x="832.0" y="855.1" width="52" height="41.89999999999998" fill="#0050ff"/>
<rect x="910.8" y="847.1" width="52" height="49.89999999999998" fill="#0050ff"/>
<rect x="989.7" y="846.1" width="52" height="50.89999999999998" fill="#0050ff"/>
<line x1="59.9" x2="79.9" y1="897" y2="897" stroke="#808080" stroke-width="2.5"/>
<line x1="138.7" x2="158.7" y1="897" y2="897" stroke="#808080" stroke-width="2.5"/>
<line x1="217.6" x2="237.6" y1="897" y2="897" stroke="#808080" stroke-width="2.5"/>
<line x1="296.4" x2="316.4" y1="897" y2="897" stroke="#808080" stroke-width="2.5"/>
<line x1="385.3" x2="385.3" y1="857.5" y2="897" stroke="#808080" stroke-width="2.8"/>
<line x1="375.3" x2="395.3" y1="857.5" y2="857.5" stroke="#808080" stroke-width="2.5"/>
<line x1="454.1" x2="474.1" y1="897" y2="897" stroke="#808080" stroke-width="2.5"/>
<line x1="533.0" x2="553.0" y1="897" y2="897" stroke="#808080" stroke-width="2.5"/>
<line x1="621.8" x2="621.8" y1="849.3" y2="897" stroke="#808080" stroke-width="2.8"/>
<line x1="611.8" x2="631.8" y1="849.3" y2="849.3" stroke="#808080" stroke-width="2.5"/>
<line x1="700.7" x2="700.7" y1="737.3" y2="897" stroke="#808080" stroke-width="2.8"/>
<line x1="690.7" x2="710.7" y1="737.3" y2="737.3" stroke="#808080" stroke-width="2.5"/>
<line x1="779.5" x2="779.5" y1="712.3" y2="897" stroke="#808080" stroke-width="2.8"/>
<line x1="769.5" x2="789.5" y1="712.3" y2="712.3" stroke="#808080" stroke-width="2.5"/>
<line x1="858.4" x2="858.4" y1="792.4" y2="897" stroke="#808080" stroke-width="2.8"/>
<line x1="848.4" x2="868.4" y1="792.4" y2="792.4" stroke="#808080" stroke-width="2.5"/>
<line x1="937.2" x2="937.2" y1="774.4" y2="897" stroke="#808080" stroke-width="2.8"/>
<line x1="927.2" x2="947.2" y1="774.4" y2="774.4" stroke="#808080" stroke-width="2.5"/>
<line x1="1016.1" x2="1016.1" y1="776.3" y2="897" stroke="#808080" stroke-width="2.8"/>
<line x1="1006.1" x2="1026.1" y1="776.3" y2="776.3" stroke="#808080" stroke-width="2.5"/>
<line x1="1084.9" x2="1104.9" y1="897" y2="897" stroke="#808080" stroke-width="2.5"/>
</g>
<rect x="68.5" y="699.5" width="1027" height="199" fill="none" stroke="#fff" stroke-width="1"/><rect x="69.5" y="700.5" width="1025" height="197" fill="none" stroke="#2b2b2b" stroke-width="1.1"/>
<text class="dj" x="65.35" y="729.9" font-size="19" fill="#000" text-anchor="end">40</text>
<text class="dj" x="64.45" y="782.9" font-size="19" fill="#000" text-anchor="end">30</text>
<text class="dj" x="64.65" y="823.2" font-size="19" fill="#000" text-anchor="end">20</text>
<text class="dj" x="64.0" y="864.3" font-size="19" fill="#000" text-anchor="end">10</text>
<text class="dj" x="66.0" y="893.0" font-size="19" fill="#000" text-anchor="end">0</text>
<text class="dj" transform="translate(69.9,927) scale(0.97,1)" font-size="24" fill="#52d6e2" text-anchor="middle">0%</text>
<text class="dj" transform="translate(148.7,927) scale(0.97,1)" font-size="24" fill="#52d6e2" text-anchor="middle">0%</text>
<text class="dj" transform="translate(227.5,927) scale(0.97,1)" font-size="24" fill="#52d6e2" text-anchor="middle">0%</text>
<text class="dj" transform="translate(306.3,927) scale(0.97,1)" font-size="24" fill="#52d6e2" text-anchor="middle">0%</text>
<text class="dj" transform="translate(385.1,927) scale(0.97,1)" font-size="24" fill="#2e98d2" text-anchor="middle">20%</text>
<text class="dj" transform="translate(463.9,927) scale(0.97,1)" font-size="24" fill="#52d6e2" text-anchor="middle">10%</text>
<text class="dj" transform="translate(542.6,927) scale(0.97,1)" font-size="24" fill="#2e98d2" text-anchor="middle">15%</text>
<text class="dj" transform="translate(621.4,927) scale(0.97,1)" font-size="24" fill="#1060bd" text-anchor="middle">50%</text>
<text class="dj" transform="translate(700.2,927) scale(0.97,1)" font-size="24" fill="#1060bd" text-anchor="middle">85%</text>
<text class="dj" transform="translate(779.0,927) scale(0.97,1)" font-size="24" fill="#1060bd" text-anchor="middle">85%</text>
<text class="dj" transform="translate(857.8,927) scale(0.97,1)" font-size="24" fill="#1060bd" text-anchor="middle">65%</text>
<text class="dj" transform="translate(936.6,927) scale(0.97,1)" font-size="24" fill="#1060bd" text-anchor="middle">50%</text>
<text class="dj" transform="translate(1015.4,927) scale(0.97,1)" font-size="24" fill="#1060bd" text-anchor="middle">55%</text>
<text class="dj" transform="translate(1094.2,927) scale(0.97,1)" font-size="24" fill="#2e98d2" text-anchor="middle">45%</text>
</svg></body></html>
